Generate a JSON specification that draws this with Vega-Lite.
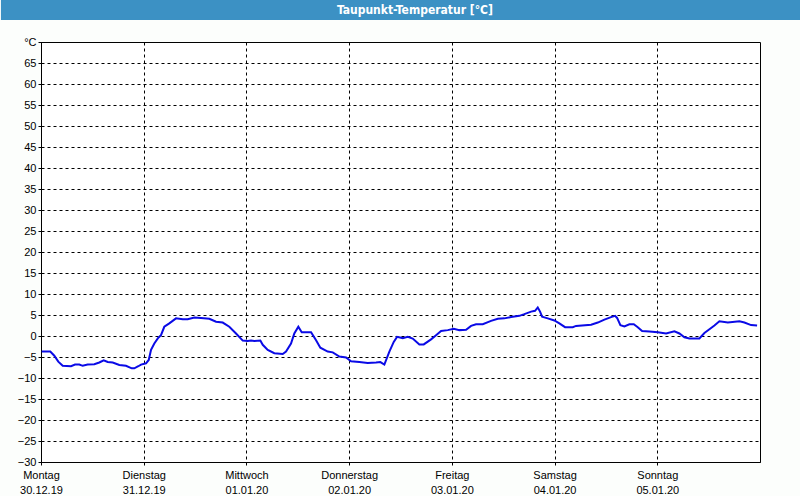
{
  "$schema": "https://vega.github.io/schema/vega-lite/v6.json",
  "background": "#fcfefc",
  "padding": 0,
  "spacing": 15,
  "config": {"font": "Liberation Sans"},
  "vconcat": [
    {
      "width": 760,
      "height": 20,
      "view": {"stroke": null},
      "data": {"values": [{"t": "Taupunkt-Temperatur [°C]", "p": 0.492, "x0": -0.0527, "x1": 1.0}]},
      "layer": [
        {
          "mark": {"type": "rect", "color": "#3c91c4"},
          "encoding": {
            "x": {"field": "x0", "type": "quantitative", "scale": {"domain": [0, 1], "nice": false, "zero": false}, "axis": null},
            "x2": {"field": "x1"}
          }
        },
        {
          "mark": {"type": "text", "color": "white", "fontWeight": "bold", "fontSize": 12, "font": "DejaVu Sans Condensed", "baseline": "middle"},
          "encoding": {
            "x": {"field": "p", "type": "quantitative"},
            "text": {"field": "t"}
          }
        }
      ]
    },
    {
      "width": 719,
      "height": 420,
      "view": {"stroke": "black", "strokeWidth": 1, "fill": "white"},
      "data": {"values": [
        {"h": 0.16, "v": -3.7}, {"h": 2.17, "v": -3.7}, {"h": 3.11, "v": -4.7}, {"h": 4.04, "v": -6.1},
        {"h": 5.07, "v": -7.1}, {"h": 7.01, "v": -7.2}, {"h": 7.95, "v": -6.8}, {"h": 8.95, "v": -6.8},
        {"h": 9.74, "v": -7.1}, {"h": 10.91, "v": -6.8}, {"h": 12.46, "v": -6.7}, {"h": 13.62, "v": -6.3},
        {"h": 14.65, "v": -5.8}, {"h": 15.59, "v": -6.2}, {"h": 16.76, "v": -6.3}, {"h": 18.3, "v": -6.9},
        {"h": 19.86, "v": -7.1}, {"h": 21.2, "v": -7.7}, {"h": 21.8, "v": -7.7}, {"h": 22.74, "v": -7.2},
        {"h": 23.37, "v": -6.8}, {"h": 24.54, "v": -6.5}, {"h": 25.17, "v": -5.7}, {"h": 25.71, "v": -3.3},
        {"h": 26.48, "v": -1.8}, {"h": 27.41, "v": -0.4}, {"h": 28.04, "v": 0.2}, {"h": 28.81, "v": 2.2},
        {"h": 29.98, "v": 3.0}, {"h": 31.55, "v": 4.2}, {"h": 33.11, "v": 4.0}, {"h": 34.28, "v": 4.0},
        {"h": 35.83, "v": 4.4}, {"h": 37.39, "v": 4.3}, {"h": 39.33, "v": 4.1}, {"h": 40.9, "v": 3.4},
        {"h": 42.46, "v": 3.2}, {"h": 44.0, "v": 2.2}, {"h": 45.57, "v": 0.6}, {"h": 47.14, "v": -1.1},
        {"h": 48.3, "v": -1.2}, {"h": 49.07, "v": -1.1}, {"h": 49.85, "v": -1.2}, {"h": 51.25, "v": -1.1},
        {"h": 51.81, "v": -2.1}, {"h": 52.98, "v": -3.3}, {"h": 54.52, "v": -4.1}, {"h": 56.48, "v": -4.3},
        {"h": 57.25, "v": -3.7}, {"h": 58.42, "v": -1.8}, {"h": 59.19, "v": 0.6}, {"h": 60.13, "v": 2.2},
        {"h": 60.92, "v": 0.9}, {"h": 63.1, "v": 0.9}, {"h": 64.27, "v": -1.0}, {"h": 65.27, "v": -2.8},
        {"h": 67.0, "v": -3.7}, {"h": 68.17, "v": -3.9}, {"h": 69.71, "v": -4.9}, {"h": 71.28, "v": -5.1},
        {"h": 72.44, "v": -6.0}, {"h": 74.38, "v": -6.2}, {"h": 76.35, "v": -6.4}, {"h": 78.29, "v": -6.3},
        {"h": 79.29, "v": -6.2}, {"h": 80.23, "v": -6.8}, {"h": 81.4, "v": -3.7}, {"h": 82.42, "v": -1.4},
        {"h": 83.19, "v": -0.2}, {"h": 84.53, "v": -0.5}, {"h": 85.69, "v": -0.2}, {"h": 86.86, "v": -0.6},
        {"h": 88.41, "v": -2.0}, {"h": 89.43, "v": -2.0}, {"h": 91.14, "v": -0.8}, {"h": 92.31, "v": 0.2},
        {"h": 93.48, "v": 1.2}, {"h": 95.04, "v": 1.4}, {"h": 96.45, "v": 1.7}, {"h": 97.75, "v": 1.4},
        {"h": 99.32, "v": 1.5}, {"h": 100.49, "v": 2.4}, {"h": 101.65, "v": 2.8}, {"h": 103.22, "v": 2.8},
        {"h": 105.16, "v": 3.6}, {"h": 106.73, "v": 4.1}, {"h": 108.27, "v": 4.2}, {"h": 109.83, "v": 4.5},
        {"h": 111.78, "v": 4.8}, {"h": 112.94, "v": 5.2}, {"h": 114.51, "v": 5.8}, {"h": 115.44, "v": 6.0},
        {"h": 116.07, "v": 6.8}, {"h": 116.61, "v": 5.8}, {"h": 117.08, "v": 4.6}, {"h": 118.41, "v": 4.2},
        {"h": 119.95, "v": 3.7}, {"h": 121.12, "v": 3.0}, {"h": 122.45, "v": 2.1}, {"h": 124.25, "v": 2.1},
        {"h": 125.02, "v": 2.4}, {"h": 128.53, "v": 2.7}, {"h": 130.1, "v": 3.2}, {"h": 131.64, "v": 3.9},
        {"h": 133.2, "v": 4.5}, {"h": 134.14, "v": 4.8}, {"h": 134.61, "v": 4.3}, {"h": 135.38, "v": 2.6},
        {"h": 136.31, "v": 2.3}, {"h": 137.48, "v": 2.8}, {"h": 138.51, "v": 2.8}, {"h": 139.44, "v": 2.1},
        {"h": 140.45, "v": 1.2}, {"h": 142.15, "v": 1.1}, {"h": 144.12, "v": 0.9}, {"h": 146.06, "v": 0.6},
        {"h": 148.0, "v": 1.1}, {"h": 149.17, "v": 0.6}, {"h": 150.34, "v": -0.3}, {"h": 151.5, "v": -0.6},
        {"h": 153.84, "v": -0.6}, {"h": 155.01, "v": 0.7}, {"h": 156.18, "v": 1.6}, {"h": 157.35, "v": 2.5},
        {"h": 158.51, "v": 3.5}, {"h": 160.48, "v": 3.2}, {"h": 163.19, "v": 3.5}, {"h": 164.36, "v": 3.2},
        {"h": 165.92, "v": 2.6}, {"h": 167.32, "v": 2.5}
      ]},
      "mark": {"type": "line", "color": "#0a0ae6", "strokeWidth": 2},
      "encoding": {
        "x": {
          "field": "h", "type": "quantitative",
          "scale": {"domain": [0, 168], "nice": false, "zero": false},
          "axis": {
            "title": null,
            "values": [0, 24, 48, 72, 96, 120, 144],
            "labelExpr": "[['Montag','30.12.19'],['Dienstag','31.12.19'],['Mittwoch','01.01.20'],['Donnerstag','02.01.20'],['Freitag','03.01.20'],['Samstag','04.01.20'],['Sonntag','05.01.20']][datum.value/24]",
            "labelFlush": false,
            "labelOverlap": false,
            "labelFontSize": 11,
            "labelColor": "black",
            "labelLineHeight": 15,
            "labelPadding": 3,
            "labelBaseline": "top",
            "tickColor": "black",
            "tickSize": 4,
            "tickDash": [3, 3],
            "domainColor": "black",
            "grid": true,
            "gridColor": "black",
            "gridOpacity": 1,
            "gridDash": [3, 3]
          }
        },
        "y": {
          "field": "v", "type": "quantitative",
          "scale": {"domain": [-30, 70], "nice": false, "zero": false},
          "axis": {
            "title": null,
            "values": [-30, -25, -20, -15, -10, -5, 0, 5, 10, 15, 20, 25, 30, 35, 40, 45, 50, 55, 60, 65, 70],
            "labelExpr": "datum.value == 70 ? '°C' : datum.label",
            "labelFlush": false,
            "labelOverlap": false,
            "labelFontSize": 11,
            "labelColor": "black",
            "labelPadding": 2,
            "minExtent": 40,
            "tickColor": "black",
            "tickSize": 3,
            "domainColor": "black",
            "grid": true,
            "gridColor": "black",
            "gridOpacity": 1,
            "gridDash": [3, 3]
          }
        }
      }
    }
  ]
}
